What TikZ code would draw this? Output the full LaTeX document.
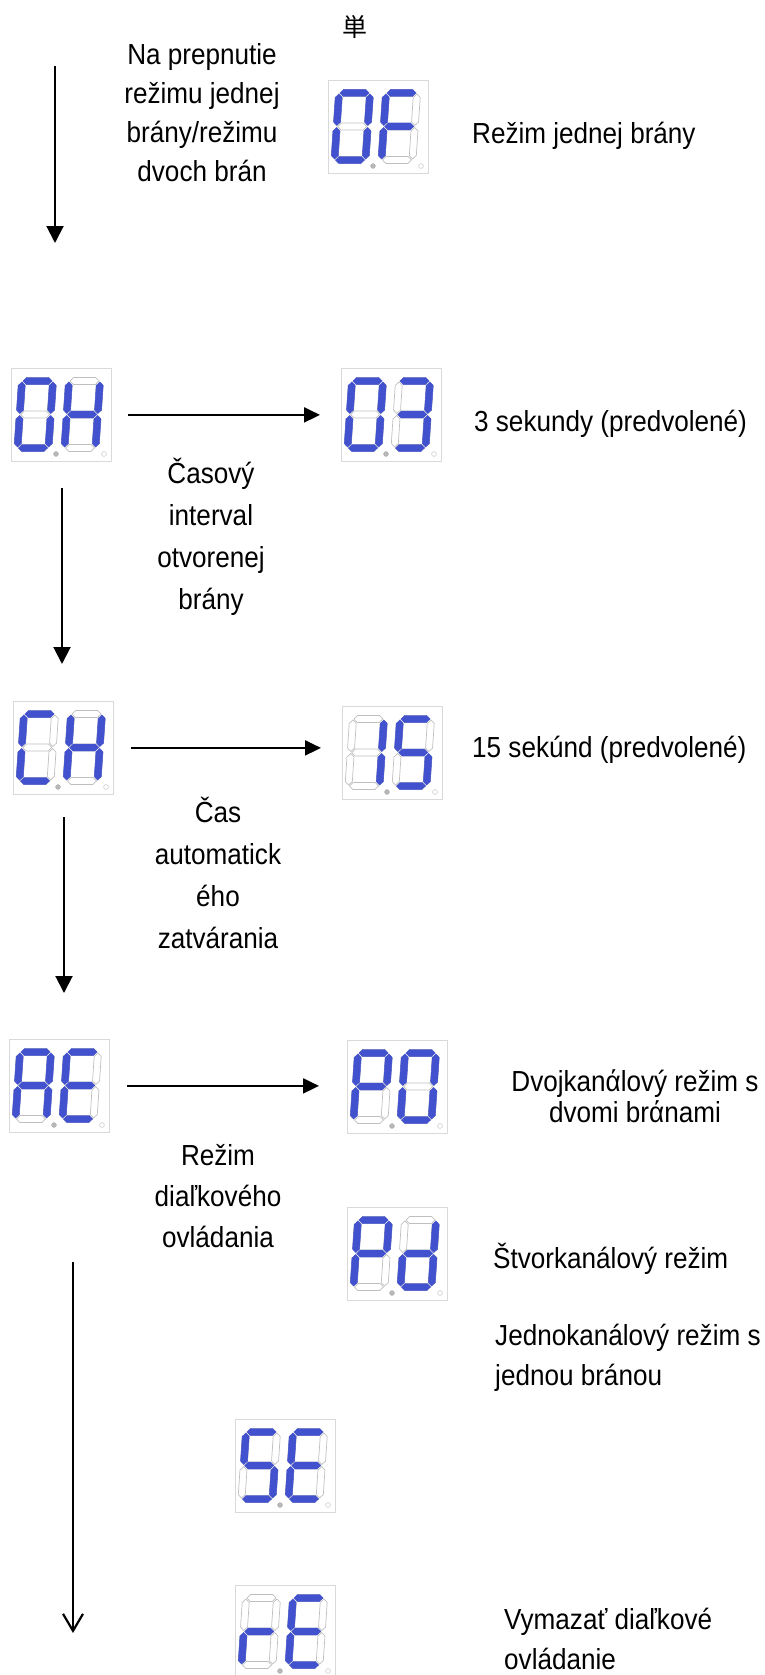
\documentclass[tikz,border=0pt]{standalone}
\usepackage{fontspec}
\setmainfont{Liberation Sans}[FakeStretch=0.9]
\newfontfamily\cjkfont{Noto Sans CJK JP}
\usetikzlibrary{arrows.meta}

\definecolor{segblue}{RGB}{66,82,206}

\tikzset{
  dispbox/.style={draw=gray!30, line width=0.8pt, minimum width=100pt, minimum height=93pt, inner sep=0pt, anchor=north west},
  segoff/.style={draw=gray!50, line width=0.7pt},
  segon/.style={fill=segblue, draw=segblue, line width=0.4pt},
  dpon/.style={fill=gray!55, draw=gray!70, line width=0.4pt},
  dpoff/.style={fill=white, draw=gray!45, line width=0.5pt},
  lbl/.style={font=\fontsize{29}{40}\selectfont, inner sep=0pt},
  cjklbl/.style={font=\cjkfont\fontsize{25}{30}\selectfont, inner sep=0pt},
  harrow/.style={line width=2pt, -{Triangle[length=16pt,width=15pt]}},
  varrow/.style={line width=2pt, -{Triangle[length=17pt,width=17pt]}},
  openarrow/.style={line width=2.2pt, -{Straight Barb[length=17pt,width=20pt]}},
}

% one segment, horizontal or vertical, from its left/top end
\newcommand\hseg[2]{(#1+1,#2) -- (#1+4.5,#2-3.5) -- (#1+26.5,#2-3.5) -- (#1+30,#2) -- (#1+26.5,#2+3.5) -- (#1+4.5,#2+3.5) -- cycle}
\newcommand\vseg[2]{(#1,#2+1) -- (#1+3.5,#2+4.5) -- (#1+3.5,#2+29) -- (#1,#2+32.5) -- (#1-3.5,#2+29) -- (#1-3.5,#2+4.5) -- cycle}

\newcommand\drawseg[2]{%
  \if#2a\draw[#1] \hseg{0}{0};\fi
  \if#2b\draw[#1] \vseg{31}{0};\fi
  \if#2c\draw[#1] \vseg{31}{33.5};\fi
  \if#2d\draw[#1] \hseg{0}{67};\fi
  \if#2e\draw[#1] \vseg{0}{33.5};\fi
  \if#2f\draw[#1] \vseg{0}{0};\fi
  \if#2g\draw[#1] \hseg{0}{33.5};\fi}

\newcommand\segdigit[3]{%
  \begin{scope}[shift={(#1,#2)}, xslant=0.067]
    \foreach \s in {a,b,c,d,e,f,g}{\drawseg{segoff}{\s}}
    \foreach \s in {#3}{\drawseg{segon}{\s}}
  \end{scope}}

% name, top left corner, lit segments of both digits
\newcommand\segdisp[5]{%
  \node[dispbox] (#1) at (#2,#3) {};
  \begin{scope}[shift={(#1.north west)}]
    \segdigit{11}{13}{#4}
    \segdigit{58}{13}{#5}
    \draw[dpon] (45,86) circle (2.4);
    \draw[dpoff] (93,86) circle (2.4);
  \end{scope}}

\begin{document}
\begin{tikzpicture}[x=1pt, y=-1pt]
  \useasboundingbox (0,0) rectangle (764,1675);

  \segdisp{dOF}{328}{80}{a,b,c,d,e,f}{a,e,f,g}
  \segdisp{dOH}{11}{368}{a,b,c,d,e,f}{b,c,e,f,g}
  \segdisp{dO3}{341}{368}{a,b,c,d,e,f}{a,b,c,d,g}
  \segdisp{dCH}{13}{701}{a,d,e,f}{b,c,e,f,g}
  \segdisp{d15}{342}{706}{b,c}{a,c,d,f,g}
  \segdisp{dAE}{9}{1039}{a,b,c,e,f,g}{a,d,e,f,g}
  \segdisp{dP0}{347}{1040}{a,b,e,f,g}{a,b,c,d,e,f}
  \segdisp{dPd}{347}{1207}{a,b,e,f,g}{b,c,d,e,g}
  \segdisp{dSE}{235}{1419}{a,c,d,f,g}{a,d,e,f,g}
  \segdisp{drE}{235}{1585}{e,g}{a,d,e,f,g}

  \node[cjklbl] (dan) at (355,27) {単};

  \node[lbl, align=center, font=\fontsize{29}{39}\selectfont] (tprep) at (202,113)
    {Na prepnutie\\režimu jednej\\brány/režimu\\dvoch brán};
  \node[lbl, anchor=base west] (tOF) at (472,143) {Režim jednej brány};
  \node[lbl, anchor=base west] (tO3) at (474,431) {3 sekundy (predvolené)};
  \node[lbl, anchor=base west] (t15) at (472,757) {15 sekúnd (predvolené)};
  \node[lbl, anchor=base west] (tPd) at (493,1268) {Štvorkanálový režim};

  \node[lbl, align=center, font=\fontsize{29}{42}\selectfont] (tint) at (211,537)
    {Časový\\interval\\otvorenej\\brány};
  \node[lbl, align=center, font=\fontsize{29}{42}\selectfont] (tauto) at (218,873)
    {Čas\\automatick\\ého\\zatvárania};
  \node[lbl, align=center, font=\fontsize{29}{41}\selectfont] (trem) at (218,1196)
    {Režim\\diaľkového\\ovládania};
  \node[lbl, align=center, font=\fontsize{29}{31}\selectfont] (tP0) at (635,1096)
    {Dvojkanάlový režim s\\dvomi brάnami};
  \node[lbl, align=left, anchor=west] (tSE) at (495,1358)
    {Jednokanálový režim s\\jednou bránou};
  \node[lbl, align=left, anchor=west] (trE) at (504,1639)
    {Vymazať diaľkové\\ovládanie};

  % menu steps run down the left side
  \coordinate (a1top) at (55,66);   \coordinate (a1end) at (55,243);
  \coordinate (a2top) at (62,488);  \coordinate (a2end) at (62,664);
  \coordinate (a3top) at (64,817);  \coordinate (a3end) at (64,993);
  \coordinate (a4top) at (73,1262); \coordinate (a4end) at (73,1633);
  \draw[varrow] (a1top) -- (a1end);
  \draw[varrow] (a2top) -- (a2end);
  \draw[varrow] (a3top) -- (a3end);
  \draw[openarrow] (a4top) -- (a4end);

  \draw[harrow, shorten <=16pt, shorten >=21pt] (dOH.east) -- (dOH.east -| dO3.west);
  \draw[harrow, shorten <=17pt, shorten >=21pt] (dCH.east) -- (dCH.east -| d15.west);
  \draw[harrow, shorten <=17pt, shorten >=28pt] (dAE.east) -- (dAE.east -| dP0.west);
\end{tikzpicture}
\end{document}
